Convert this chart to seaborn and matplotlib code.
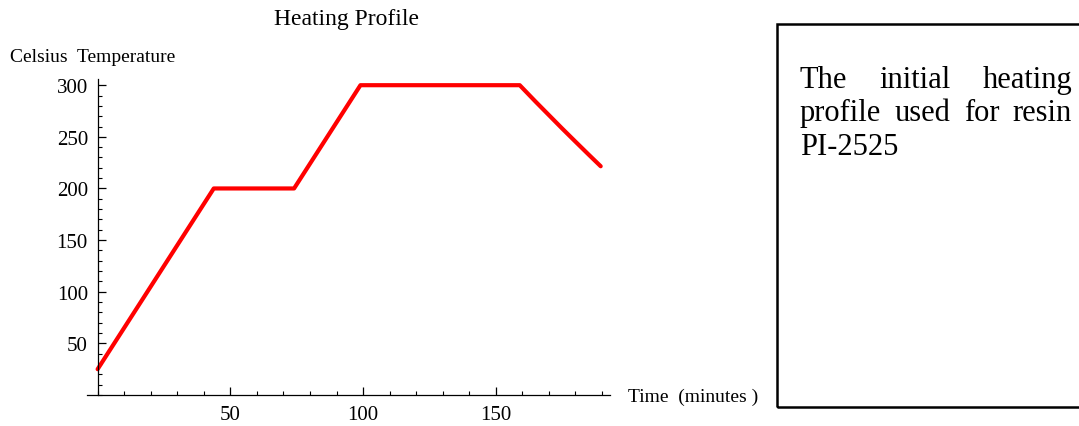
import matplotlib
matplotlib.use("Agg")
import matplotlib.pyplot as plt
from matplotlib.patches import Rectangle
from matplotlib.ticker import MultipleLocator
import pandas as pd
import seaborn as sns

# heating profile (minutes, deg C)
time_min = [0, 43.75, 74, 99, 159, 165, 170, 175, 180, 185, 189.5]
temp_c = [25, 200, 200, 300, 300, 284, 271, 258, 245.3, 232.7, 221.5]

x_ticks = [50, 100, 150]
y_ticks = [50, 100, 150, 200, 250, 300]

title = "Heating Profile"
y_label = "Celsius  Temperature"
x_label = "Time  (minutes )"
caption_lines = [["The", "initial", "heating"],
                 ["profile", "used", "for", "resin"],
                 ["PI-2525"]]

sns.set_style("white")
plt.rcParams["font.family"] = ["Liberation Serif", "DejaVu Serif"]
plt.rcParams["text.color"] = "black"

W, H = 1079, 427
df = pd.DataFrame({"time": time_min, "temp": temp_c})

fig = plt.figure(figsize=(W / 100, H / 100), dpi=100)
ax = fig.add_axes([87 / W, 1 - 396 / H, (610 - 87) / W, (396 - 80) / H])

sns.lineplot(data=df, x="time", y="temp", ax=ax, color="red", linewidth=3,
             estimator=None, sort=False, clip_on=False)

ax.set_xlim(-4, 193)
ax.set_ylim(0, 306)
ax.spines["left"].set_position(("data", 0))
ax.spines["bottom"].set_position(("data", 0))
ax.spines["top"].set_visible(False)
ax.spines["right"].set_visible(False)
for s in ["left", "bottom"]:
    ax.spines[s].set_linewidth(0.9)
    ax.spines[s].set_color("black")

ax.set_xticks(x_ticks)
ax.set_yticks(y_ticks)
ax.xaxis.set_minor_locator(MultipleLocator(10))
ax.yaxis.set_minor_locator(MultipleLocator(10))
ax.tick_params(which="major", direction="in", length=6, width=0.9,
               labelsize=15, pad=7, colors="black", labelcolor="black")
ax.tick_params(which="minor", direction="in", length=3, width=0.8, colors="black")
ax.tick_params(axis="y", which="both", left=True)
ax.tick_params(axis="x", which="both", bottom=True)
ax.set_xlabel("")
ax.set_ylabel("")
ax.grid(False)

fig.text(347 / W, 1 - 20 / H, title, ha="center", va="center", fontsize=17, color="black")
fig.text(10 / W, 1 - 57 / H, y_label, ha="left", va="center", fontsize=14, color="black")
fig.text(628 / W, 1 - 397 / H, x_label, ha="left", va="center", fontsize=14, color="black")

# caption box on the right, running off the right edge
fig.patches.append(Rectangle((777 / W, 1 - 408 / H), 0.4, (408 - 25) / H,
                             transform=fig.transFigure, fill=False,
                             edgecolor="black", linewidth=1.8, clip_on=False))

# justified caption: left edge 800 px, right edge 1072 px
left_px, right_px = 800, 1072
baselines = [88, 121, 155]
renderer = fig.canvas.get_renderer()
for li, (words, yb) in enumerate(zip(caption_lines, baselines)):
    texts = [fig.text(left_px / W, 1 - yb / H, w, ha="left", va="baseline",
                      fontsize=22, color="black") for w in words]
    if li == len(caption_lines) - 1 or len(words) == 1:
        continue
    widths = [t.get_window_extent(renderer).width for t in texts]
    gap = (right_px - left_px - sum(widths)) / (len(words) - 1)
    xp = left_px
    for t, wd in zip(texts, widths):
        t.set_x(xp / W)
        xp += wd + gap

fig.savefig("out.png", dpi=100)
